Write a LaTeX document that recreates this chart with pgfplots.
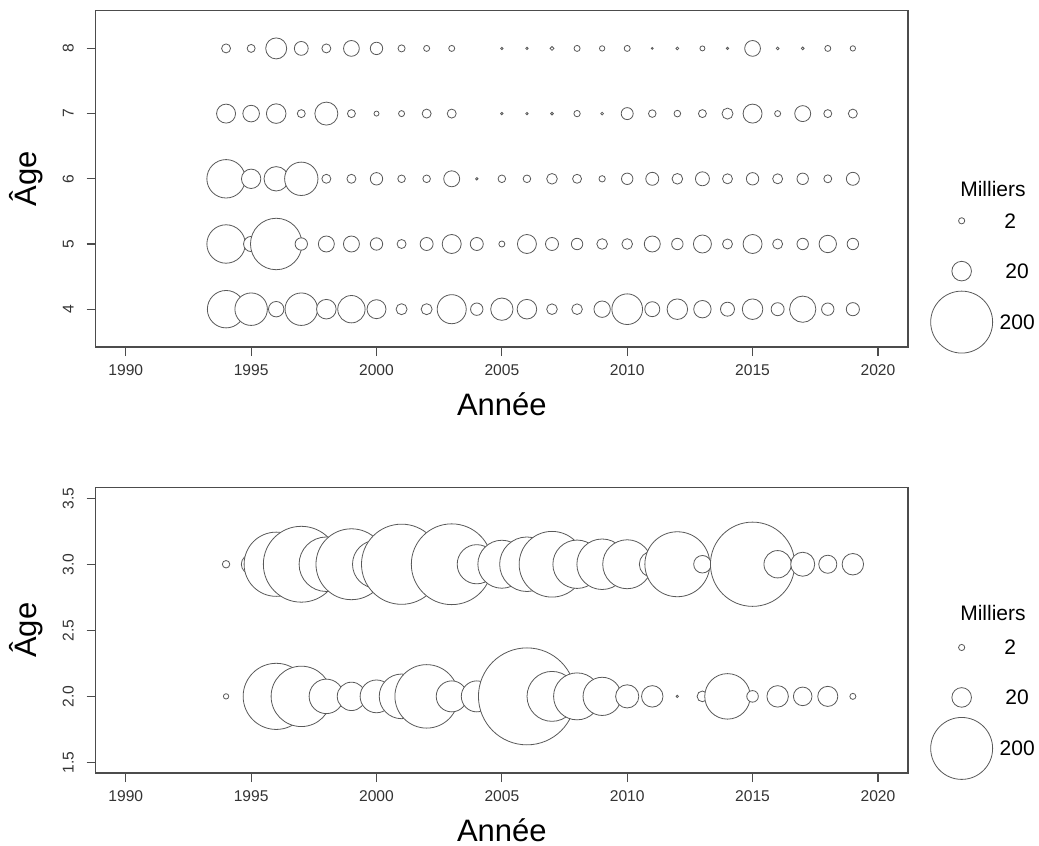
\documentclass[border=0pt]{standalone}
\usepackage{fontspec}
\setmainfont{Liberation Sans}
\usepackage{graphicx}
\usepackage{pgfplots}
\pgfplotsset{compat=1.18}
\usepackage{pgfplotstable}

\pgfplotstableread{
yr age v
1994 8 4.2
1995 8 3.3
1996 8 23
1997 8 10
1998 8 4.2
1999 8 13
2000 8 8
2001 8 2.6
2002 8 1.9
2003 8 1.9
2005 8 0.3
2006 8 0.3
2007 8 0.8
2008 8 1.9
2009 8 1.5
2010 8 1.9
2011 8 0.2
2012 8 0.4
2013 8 1.3
2014 8 0.3
2015 8 13
2016 8 0.4
2017 8 0.4
2018 8 1.9
2019 8 1.5
1994 7 18.8
1995 7 14.4
1996 7 20
1997 7 3.3
1998 7 27.6
1999 7 3.3
2000 7 1.3
2001 7 1.9
2002 7 4.2
2003 7 4.2
2005 7 0.3
2006 7 0.3
2007 7 0.4
2008 7 2.1
2009 7 0.4
2010 7 7.5
2011 7 3
2012 7 2.3
2013 7 3.3
2014 7 6.3
2015 7 18.8
2016 7 1.9
2017 7 13.3
2018 7 3.3
2019 7 4.2
1994 6 77
1995 6 19.6
1996 6 31
1997 6 58
1998 6 4.2
1999 6 4.2
2000 6 8
2001 6 3
2002 6 3
2003 6 13.3
2004 6 0.3
2005 6 3
2006 6 3
2007 6 5.9
2008 6 4.2
2009 6 2.1
2010 6 6.8
2011 6 8.8
2012 6 5.9
2013 6 10.2
2014 6 5.2
2015 6 8
2016 6 5.2
2017 6 6.8
2018 6 3.3
2019 6 8.8
1994 5 77
1995 5 12
1996 5 138
1997 5 8
1998 5 13.3
1999 5 13.3
2000 5 8
2001 5 4.2
2002 5 8.8
2003 5 18.8
2004 5 8.8
2005 5 1.9
2006 5 18.8
2007 5 8.8
2008 5 6.8
2009 5 5.9
2010 5 5.9
2011 5 13.3
2012 5 6.8
2013 5 16.9
2014 5 5.2
2015 5 18.8
2016 5 5.2
2017 5 6.8
2018 5 15.8
2019 5 6.8
1994 4 73
1995 4 55
1996 4 12.4
1997 4 55
1998 4 20
1999 4 39
2000 4 18.8
2001 4 6.3
2002 4 6.3
2003 4 44
2004 4 8
2005 4 26
2006 4 20
2007 4 5.9
2008 4 5.9
2009 4 14
2010 4 49
2011 4 11.7
2012 4 22
2013 4 15.8
2014 4 10.2
2015 4 22
2016 4 8.8
2017 4 36
2018 4 8
2019 4 9
}\topdata

\pgfplotstableread{
yr age v
1994 3 2.9
1995 3 20
1996 3 215
1997 3 300
1998 3 155
1999 3 262
2000 3 120
2001 3 335
2002 3 30
2003 3 340
2004 3 80
2005 3 120
2006 3 155
2007 3 225
2008 3 122
2009 3 133
2010 3 125
2011 3 35
2012 3 220
2013 3 16
2015 3 370
2016 3 39
2017 3 30
2018 3 17
2019 3 24
1994 2 1.5
1996 2 228
1997 2 190
1998 2 62
1999 2 42
2000 2 56
2001 2 104
2002 2 210
2003 2 50
2004 2 50
2006 2 490
2007 2 130
2008 2 115
2009 2 76
2010 2 28
2011 2 24
2012 2 0.3
2013 2 6
2014 2 108
2015 2 7
2016 2 24
2017 2 18
2018 2 21
2019 2 1.9
}\botdata

\pgfplotstableread{
yr age v
2023.34 5.356 2
2023.34 4.584 20
2023.34 3.802 200
}\toplegend

\pgfplotstableread{
yr age v
2023.34 2.370 2
2023.34 1.992 20
2023.34 1.606 200
}\botlegend

\tikzset{legtxt/.style={font=\fontsize{10.5}{12}\selectfont, inner sep=0pt}}

\pgfplotsset{
  bub/.style={scatter, only marks, mark=*,
    point meta=\thisrow{v},
    scatter/use mapped color={draw=black!65, fill=white},
    visualization depends on={1.095*sqrt(\thisrow{v}) \as \rad},
    scatter/@pre marker code/.append style={/tikz/mark size=\rad, /tikz/line width=0.65pt}},
  base/.style={scale only axis, width=406.15pt,
    xmin=1988.8, xmax=2021.2, xtick={1990,1995,...,2020},
    clip=false,
    axis line style={black!70, line width=0.8pt},
    tick style={black!70, line width=0.6pt},
    tick align=outside, major tick length=4.6pt,
    xtick pos=bottom, ytick pos=left,
    /pgf/number format/assume math mode=true,
    /pgf/number format/1000 sep={},
    ticklabel style={font=\fontsize{7.8}{9}\selectfont, inner sep=0pt, text=black!80},
    xticklabel style={anchor=north},
    yticklabel style={anchor=east, xshift=-6.2pt},
    xticklabel shift=4.2pt, yticklabel shift=0pt,
    label style={font=\fontsize{15.5}{18}\selectfont},
    xlabel={Année},
    ylabel={Âge},
    xlabel style={at={(axis description cs:0.5,0)}, anchor=center, yshift=-28.5pt},
  },
}

\begin{document}
\begin{tikzpicture}
\useasboundingbox (0,0) rectangle (519.5pt,-423pt);

\begin{axis}[base, at={(47.85pt,-173.5pt)}, anchor=south west,
  height=168.2pt, ymin=3.42, ymax=8.58, ytick={4,5,6,7,8},
  yticklabel={\rotatebox{90}{\pgfmathprintnumber{\tick}}},
  ylabel style={at={(axis description cs:-0.0858,0.5)}, anchor=center}]
\addplot[bub] table[x=yr, y=age] {\topdata};
\addplot[bub] table[x=yr, y=age] {\toplegend};
\node[legtxt] at (axis cs:2024.59,5.842) {Milliers};
\node[legtxt, anchor=west] at (axis cs:2025.03,5.356) {2};
\node[legtxt, anchor=west] at (axis cs:2025.07,4.584) {20};
\node[legtxt, anchor=west] at (axis cs:2024.84,3.802) {200};
\end{axis}

\begin{axis}[base, at={(47.85pt,-386.5pt)}, anchor=south west,
  height=142.7pt, ymin=1.42, ymax=3.58, ytick={1.5,2.0,2.5,3.0,3.5},
  yticklabel={\rotatebox{90}{\pgfmathprintnumber[fixed,fixed zerofill,precision=1]{\tick}}},
  ylabel style={at={(axis description cs:-0.0858,0.5)}, anchor=center}]
\addplot[bub] table[x=yr, y=age] {\botdata};
\addplot[bub] table[x=yr, y=age] {\botlegend};
\node[legtxt] at (axis cs:2024.59,2.628) {Milliers};
\node[legtxt, anchor=west] at (axis cs:2025.03,2.370) {2};
\node[legtxt, anchor=west] at (axis cs:2025.07,1.992) {20};
\node[legtxt, anchor=west] at (axis cs:2024.84,1.606) {200};
\end{axis}
\end{tikzpicture}
\end{document}
